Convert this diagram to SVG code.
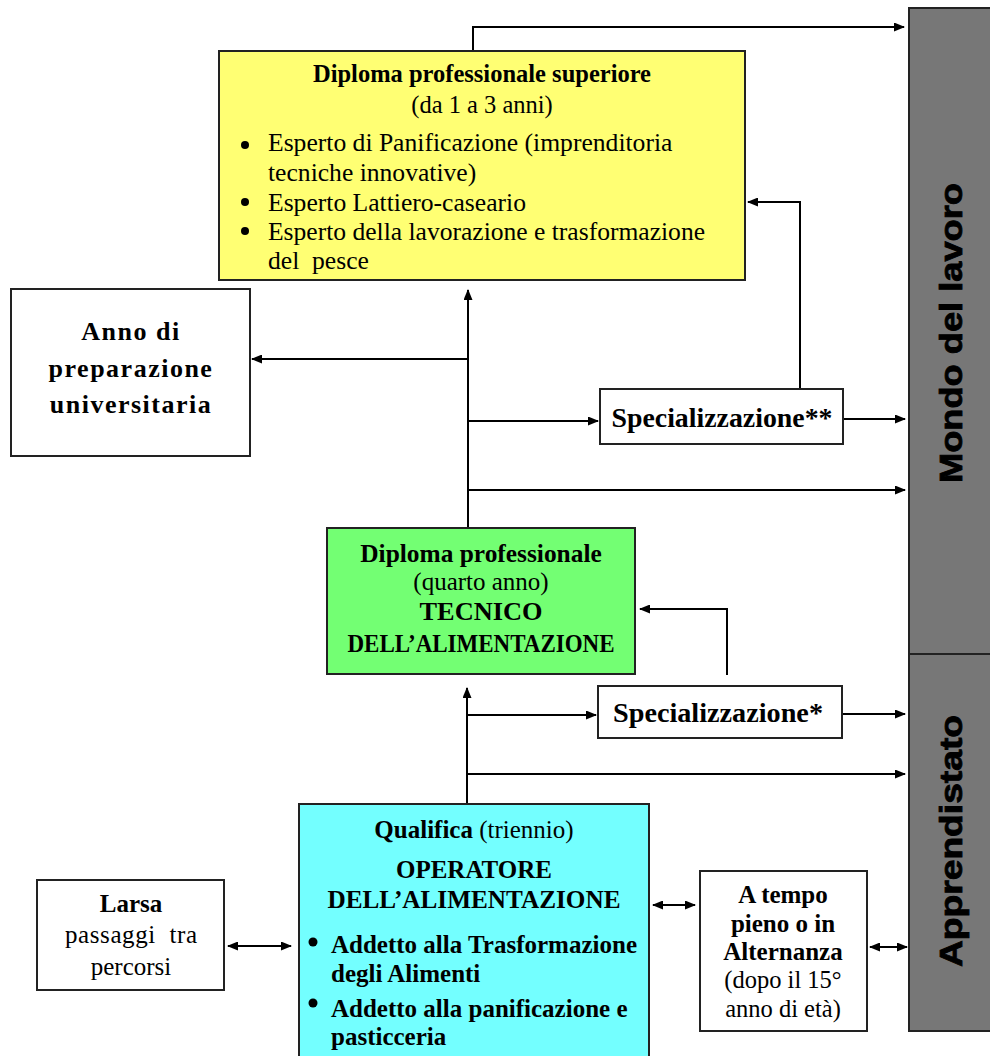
<svg xmlns="http://www.w3.org/2000/svg" width="990" height="1056" viewBox="0 0 990 1056">
<defs>
<marker id="ah" markerWidth="11" markerHeight="9" refX="10" refY="4.5" orient="auto-start-reverse" markerUnits="userSpaceOnUse">
<path d="M0,0 L11,4.5 L0,9 z" fill="#000"/>
</marker>
<style>
.box{stroke:#222;stroke-width:2}
.t{font-family:"Liberation Serif","Times New Roman",serif;fill:#000}
.c{text-anchor:middle}
.b{font-weight:bold}
.s{font-family:"Liberation Sans",Arial,sans-serif;font-weight:bold;font-size:31px;fill:#000;stroke:#000;stroke-width:0.8;text-anchor:middle}
.ar{fill:none;stroke:#000;stroke-width:2;marker-end:url(#ah)}
.dar{fill:none;stroke:#000;stroke-width:2;marker-end:url(#ah);marker-start:url(#ah)}
</style>
</defs>
<rect width="990" height="1056" fill="#fff"/>

<g id="mondo">
<rect x="909" y="8" width="90" height="1023" fill="#777" stroke="#222" stroke-width="2"/>
<line x1="909" y1="654" x2="990" y2="654" stroke="#222" stroke-width="2"/>
<text class="s" transform="translate(962,333) rotate(-90)" textLength="300" lengthAdjust="spacingAndGlyphs">Mondo del lavoro</text>
<text class="s" transform="translate(962,841) rotate(-90)" textLength="252" lengthAdjust="spacingAndGlyphs">Apprendistato</text>
</g>

<g id="connectors">
<polyline class="ar" points="473,50 473,27 904,27"/>
<line class="ar" x1="468" y1="528" x2="468" y2="290"/>
<line class="ar" x1="468" y1="359" x2="252" y2="359"/>
<line class="ar" x1="468" y1="421" x2="598" y2="421"/>
<line class="ar" x1="843" y1="419" x2="905" y2="419"/>
<polyline class="ar" points="800,389 800,202 748,202"/>
<line class="ar" x1="468" y1="490" x2="905" y2="490"/>
<line class="ar" x1="467" y1="804" x2="467" y2="688"/>
<line class="ar" x1="467" y1="715" x2="596" y2="715"/>
<line class="ar" x1="842" y1="714" x2="905" y2="714"/>
<polyline class="ar" points="727,675 727,609 640,609"/>
<line class="ar" x1="467" y1="774" x2="905" y2="774"/>
<line class="dar" x1="228" y1="946" x2="291" y2="946"/>
<line class="dar" x1="653" y1="905" x2="695" y2="905"/>
<line class="dar" x1="870" y1="947" x2="907" y2="947"/>
</g>

<g id="diploma-superiore">
<rect class="box" x="219" y="51" width="526" height="229" fill="#ffff73"/>
<text class="t c b" x="482" y="82" font-size="24.5">Diploma professionale superiore</text>
<text class="t c" x="482" y="113" font-size="24.5">(da 1 a 3 anni)</text>
<circle cx="245" cy="145" r="4"/>
<circle cx="245" cy="202" r="4"/>
<circle cx="245" cy="231" r="4"/>
<text class="t" x="268" y="151" font-size="25.6">Esperto di Panificazione (imprenditoria</text>
<text class="t" x="268" y="181" font-size="25.6">tecniche innovative)</text>
<text class="t" x="268" y="211" font-size="25.6">Esperto Lattiero-caseario</text>
<text class="t" x="268" y="240" font-size="25.6" textLength="437" lengthAdjust="spacingAndGlyphs">Esperto della lavorazione e trasformazione</text>
<text class="t" x="268" y="269" font-size="25.6" xml:space="preserve">del  pesce</text>
</g>

<g id="anno-preparazione">
<rect class="box" x="11" y="289" width="239" height="167" fill="#fff"/>
<text class="t c b" x="131" y="340" font-size="26" letter-spacing="1.5">Anno di</text>
<text class="t c b" x="131" y="377" font-size="26" letter-spacing="1.5">preparazione</text>
<text class="t c b" x="131" y="413" font-size="26" letter-spacing="1.5">universitaria</text>
</g>

<g id="specializzazione2">
<rect class="box" x="600" y="389" width="243" height="55" fill="#fff"/>
<text class="t c b" x="722" y="427" font-size="27" textLength="221" lengthAdjust="spacingAndGlyphs">Specializzazione**</text>
</g>

<g id="diploma-professionale">
<rect class="box" x="327" y="528" width="308" height="146" fill="#73ff73"/>
<text class="t c b" x="481" y="562" font-size="25.4">Diploma professionale</text>
<text class="t c" x="481" y="590" font-size="25">(quarto anno)</text>
<text class="t c b" x="481" y="620" font-size="25" textLength="123" lengthAdjust="spacingAndGlyphs">TECNICO</text>
<text class="t c b" x="481" y="652" font-size="25" textLength="267" lengthAdjust="spacingAndGlyphs">DELL’ALIMENTAZIONE</text>
</g>

<g id="specializzazione1">
<rect class="box" x="598" y="686" width="244" height="52" fill="#fff"/>
<text class="t c b" x="718" y="722" font-size="27" textLength="210" lengthAdjust="spacingAndGlyphs">Specializzazione*</text>
</g>

<g id="qualifica">
<rect class="box" x="299" y="804" width="350" height="262" fill="#73ffff"/>
<text class="t c" x="474" y="838" font-size="25"><tspan class="b">Qualifica</tspan> (triennio)</text>
<text class="t c b" x="474" y="878" font-size="25">OPERATORE</text>
<text class="t c b" x="474" y="908" font-size="25" textLength="293" lengthAdjust="spacingAndGlyphs">DELL’ALIMENTAZIONE</text>
<circle cx="313" cy="942" r="4.5"/>
<circle cx="313" cy="1003" r="4.5"/>
<text class="t b" x="331" y="953" font-size="25">Addetto alla Trasformazione</text>
<text class="t b" x="331" y="982" font-size="25">degli Alimenti</text>
<text class="t b" x="331" y="1017" font-size="25">Addetto alla panificazione e</text>
<text class="t b" x="331" y="1045" font-size="25">pasticceria</text>
</g>

<g id="larsa">
<rect class="box" x="37" y="880" width="187" height="110" fill="#fff"/>
<text class="t c b" x="131" y="912" font-size="25">Larsa</text>
<text class="t c" x="131" y="943" font-size="25" xml:space="preserve" textLength="132" lengthAdjust="spacing">passaggi  tra</text>
<text class="t c" x="131" y="975" font-size="25">percorsi</text>
</g>

<g id="tempo-pieno">
<rect class="box" x="700" y="871" width="167" height="160" fill="#fff"/>
<text class="t c b" x="783" y="903" font-size="25">A tempo</text>
<text class="t c b" x="783" y="932" font-size="25">pieno o in</text>
<text class="t c b" x="783" y="960" font-size="25">Alternanza</text>
<text class="t c" x="783" y="988" font-size="24.5">(dopo il 15°</text>
<text class="t c" x="783" y="1017" font-size="24.5">anno di età)</text>
</g>
</svg>
